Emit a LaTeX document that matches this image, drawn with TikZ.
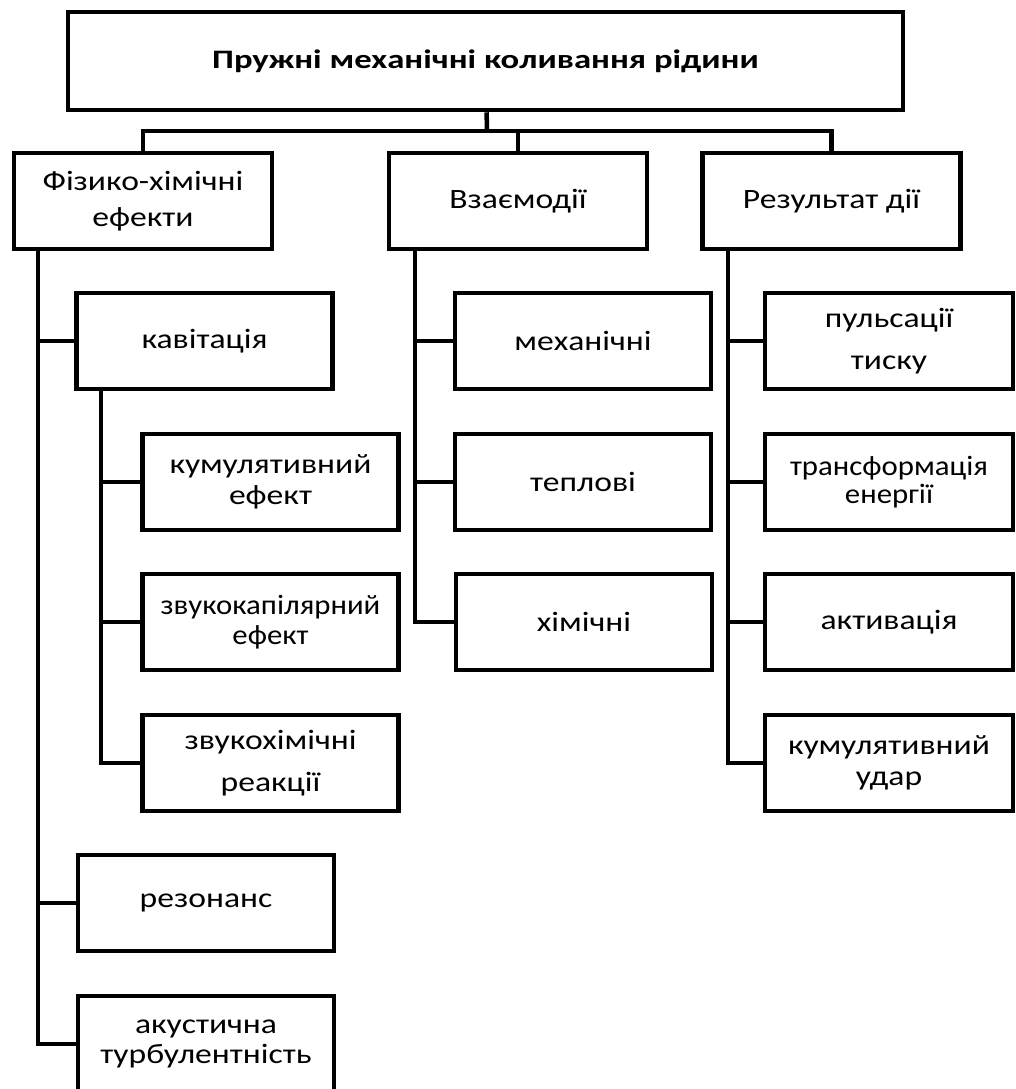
\documentclass[tikz,border=0pt]{standalone}
\usepackage{fontspec}
\setmainfont{Carlito}
\newfontfamily\widefont[FakeStretch=1.2]{Carlito}
\newfontfamily\midfont[FakeStretch=1.1]{Carlito}
\newfontfamily\titlefont[FakeStretch=1.3]{Carlito}
\usetikzlibrary{positioning}

\tikzset{
  box/.style={draw, line width=3.4pt, align=center, inner sep=0pt,
    minimum width=192pt, minimum height=72pt,
    font=\widefont\fontsize{21}{23}\selectfont},
  headbox/.style={box, minimum width=193.5pt},
  rightbox/.style={box, minimum width=186pt},
  narrow/.style={font=\midfont\fontsize{21}{23}\selectfont},
  link/.style={line width=3.4pt},
}

\begin{document}
\begin{tikzpicture}[x=0.75pt,y=-0.75pt]
  \useasboundingbox (0,0) rectangle (1015,1089);
  % top
  \node [box, minimum width=626.25pt, minimum height=73.5pt,
    font=\titlefont\fontsize{20}{24}\selectfont\bfseries] (title) at (485.5,61)
    {Пружні механічні коливання рідини};
  \node [headbox] (fiz) at (143,201) {Фізико-хімічні\\[4pt]ефекти};
  \node [headbox] (vza) at (518,201) {Взаємодії};
  \node [headbox] (res) at (831.5,201) {Результат дії};
  \coordinate (bus) at (487,131);
  \draw [link] (title) -- (bus);
  \draw [link] (fiz.north) -- (fiz.north |- bus) -- (res.north |- bus) -- (res.north);
  \draw [link] (vza.north) -- (vza.north |- bus);

  % left column
  \node [box] (kav) at (204.5,341) {кавітація};
  \node [box] (kumef) at (270.5,482) {кумулятивний\\ефект};
  \node [box, narrow] (zkap) at (270.5,622) {звукокапілярний\\ефект};
  \node [box] (zhim) at (270.5,763) {звукохімічні\\[8pt]реакції};
  \node [box] (rez) at (206,903) {резонанс};
  \node [box] (akus) at (206,1044) {акустична\\турбулентність};
  \coordinate (fizroot) at (38,249);
  \coordinate (kavroot) at (101,389);
  \draw [link] (fizroot) |- (kav.west);
  \draw [link] (fizroot) |- (rez.west);
  \draw [link] (fizroot) |- (akus.west);
  \draw [link] (kavroot) |- (kumef.west);
  \draw [link] (kavroot) |- (zkap.west);
  \draw [link] (kavroot) |- (zhim.west);

  % middle column
  \node [box] (meh) at (583,341) {механічні};
  \node [box] (tepl) at (583,482) {теплові};
  \node [box] (him) at (584,622) {хімічні};
  \coordinate (vzaroot) at (415,249);
  \draw [link] (vzaroot) |- (meh.west);
  \draw [link] (vzaroot) |- (tepl.west);
  \draw [link] (vzaroot) |- (him.west);

  % right column
  \node [rightbox] (puls) at (889,341) {пульсації\\[9pt]тиску};
  \node [rightbox, narrow] (trans) at (889,482) {трансформація\\[-2pt]енергії};
  \node [rightbox] (akt) at (889,622) {активація};
  \node [rightbox] (kumud) at (889,763) {кумулятивний\\удар};
  \coordinate (resroot) at (728,249);
  \draw [link] (resroot) |- (puls.west);
  \draw [link] (resroot) |- (trans.west);
  \draw [link] (resroot) |- (akt.west);
  \draw [link] (resroot) |- (kumud.west);
\end{tikzpicture}
\end{document}
